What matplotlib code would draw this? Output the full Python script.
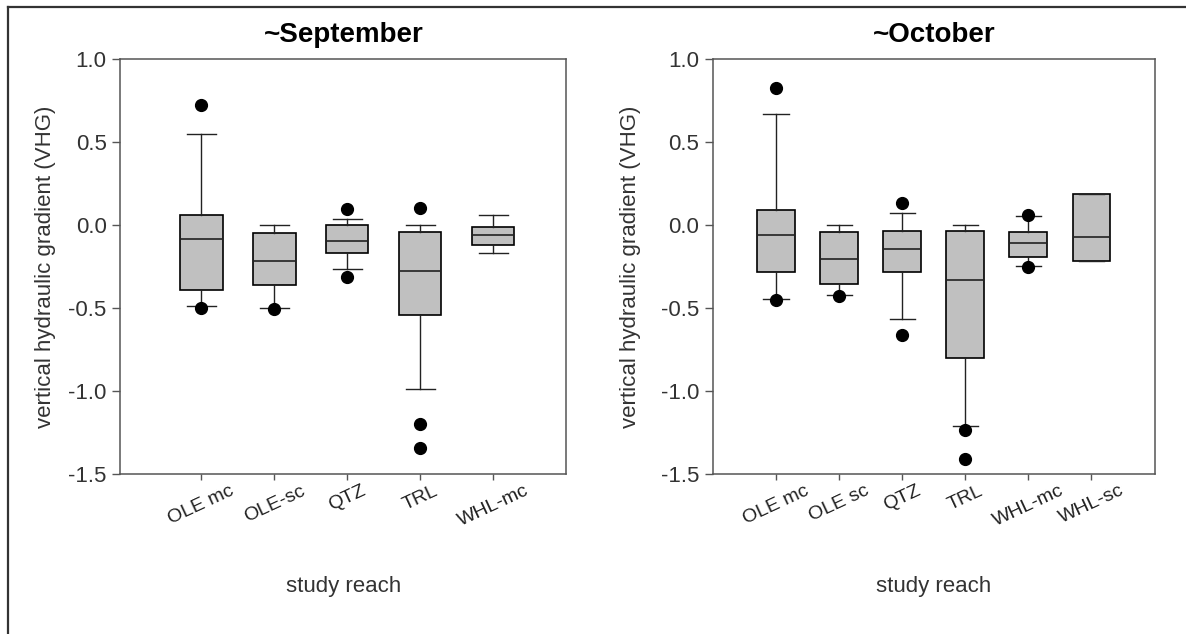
import matplotlib
matplotlib.use("Agg")
import matplotlib.pyplot as plt
from matplotlib.lines import Line2D

plt.rcParams["font.family"] = ["Liberation Sans", "DejaVu Sans"]

# --- Daten ---
sep_labels = ["OLE mc", "OLE-sc", "QTZ", "TRL", "WHL-mc"]
sep_q1 = [-0.39, -0.36, -0.17, -0.54, -0.12]
sep_med = [-0.085, -0.215, -0.095, -0.28, -0.06]
sep_q3 = [0.06, -0.05, 0.0, -0.04, -0.01]
sep_lo = [-0.49, -0.50, -0.265, -0.99, -0.17]
sep_hi = [0.55, 0.0, 0.035, 0.0, 0.06]
sep_fliers = [[0.72, -0.50], [-0.505], [0.095, -0.315], [0.10, -1.20, -1.345], []]

oct_labels = ["OLE mc", "OLE sc", "QTZ", "TRL", "WHL-mc", "WHL-sc"]
oct_q1 = [-0.285, -0.355, -0.285, -0.80, -0.195, -0.22]
oct_med = [-0.06, -0.205, -0.145, -0.33, -0.11, -0.075]
oct_q3 = [0.09, -0.04, -0.035, -0.035, -0.04, 0.185]
oct_lo = [-0.445, -0.42, -0.565, -1.21, -0.25, -0.22]   # WHL-sc ohne Whisker
oct_hi = [0.67, 0.0, 0.07, 0.0, 0.055, 0.185]
oct_fliers = [[0.825, -0.45], [-0.43], [0.13, -0.665], [-1.235, -1.41], [0.058, -0.253], []]

yticks = [-1.5, -1.0, -0.5, 0.0, 0.5, 1.0]

BOX_FILL = "#c0c0c0"
SPINE = "#555555"
TEXT = "#333333"


def draw_panel(ax, title, labels, q1, med, q3, lo, hi, fliers, xlim, width, ylab_x):
    stats = []
    for i, lab in enumerate(labels):
        stats.append({"label": lab, "q1": q1[i], "med": med[i], "q3": q3[i],
                      "whislo": lo[i], "whishi": hi[i], "fliers": fliers[i]})
    pos = list(range(1, len(labels) + 1))
    ax.bxp(stats, positions=pos, widths=width, capwidths=0.4, patch_artist=True,
           boxprops=dict(facecolor=BOX_FILL, edgecolor="black", linewidth=1.2),
           medianprops=dict(color="#222222", linewidth=1.2),
           whiskerprops=dict(color="#222222", linewidth=1.0),
           capprops=dict(color="#222222", linewidth=1.0),
           flierprops=dict(marker="o", markerfacecolor="black", markeredgecolor="black",
                           markersize=8.5))
    ax.set_xlim(*xlim)
    ax.set_ylim(-1.5, 1.0)
    ax.set_yticks(yticks)
    ax.set_yticklabels([f"{v:.1f}" for v in yticks])
    ax.set_xticks(pos)
    ax.set_xticklabels(labels, rotation=25, ha="center", va="top", fontsize=14,
                       color="#222222")
    ax.tick_params(axis="y", direction="out", length=6, width=1.0, color=SPINE,
                   labelsize=16, labelcolor=TEXT, pad=4)
    ax.tick_params(axis="x", direction="out", length=4, width=1.0, color=SPINE, pad=2)
    for s in ax.spines.values():
        s.set_color(SPINE)
        s.set_linewidth(1.1)
    ax.set_title(title, fontsize=20, fontweight="bold", color="black", pad=12)
    ax.set_ylabel("vertical hydraulic gradient (VHG)", fontsize=16, color=TEXT)
    ax.yaxis.set_label_coords(ylab_x, 0.5)
    ax.set_xlabel("study reach", fontsize=16, color=TEXT)
    ax.xaxis.set_label_coords(0.5, -0.245)


fig = plt.figure(figsize=(11.86, 6.34), dpi=100)
ax1 = fig.add_axes([0.1016, 0.2524, 0.3757, 0.6546])
ax2 = fig.add_axes([0.6012, 0.2524, 0.3723, 0.6546])

draw_panel(ax1, "~September", sep_labels, sep_q1, sep_med, sep_q3, sep_lo, sep_hi,
           sep_fliers, (-0.11, 6.0), 0.58, -0.145)
draw_panel(ax2, "~October", oct_labels, oct_q1, oct_med, oct_q3, oct_lo, oct_hi,
           oct_fliers, (0.0, 7.0), 0.6, -0.164)

# Rahmen um die Abbildung (nur links und oben sichtbar)
fx = 8 / 1186
fy = 1 - 7 / 634
fig.add_artist(Line2D([fx, fx], [0, fy], transform=fig.transFigure, color="#333333", lw=1.6))
fig.add_artist(Line2D([fx, 1], [fy, fy], transform=fig.transFigure, color="#333333", lw=1.6))

fig.savefig("out.png", dpi=100, facecolor="white")
